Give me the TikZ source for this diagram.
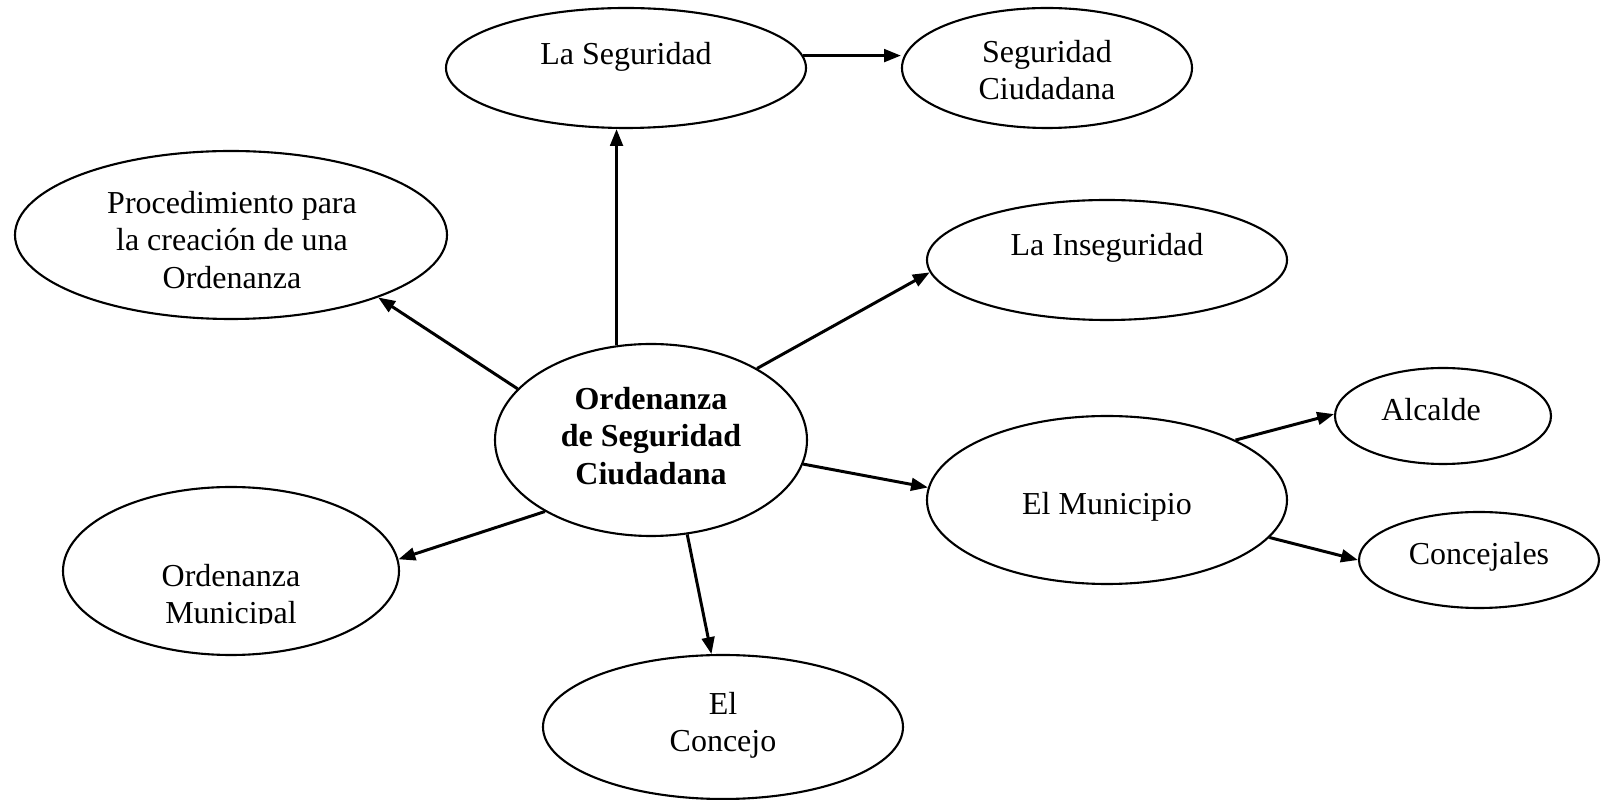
\documentclass[tikz,border=0pt]{standalone}
\usepackage{fontspec}
\setmainfont{Liberation Serif}
\usetikzlibrary{shapes.geometric,arrows.meta}

\begin{document}
\begin{tikzpicture}[
  >={Triangle[length=4.8pt,width=3.6pt]},
  oval/.style={draw, ellipse, line width=0.6pt, inner sep=0pt},
  txt/.style={align=center, inner sep=0pt, font=\fontsize{9.1}{10.6}\selectfont},
  arr/.style={->, line width=0.85pt}
]
  \useasboundingbox (0,0) rectangle (16.01,-8.00);

  % ellipses
  \node[oval, minimum width=3.60cm, minimum height=1.20cm] (seg)   at (6.26,-0.68) {};
  \node[oval, minimum width=2.90cm, minimum height=1.20cm] (segc)  at (10.47,-0.68) {};
  \node[oval, minimum width=4.32cm, minimum height=1.68cm] (proc)  at (2.31,-2.35) {};
  \node[oval, minimum width=3.60cm, minimum height=1.20cm] (inseg) at (11.07,-2.60) {};
  \node[oval, minimum width=3.12cm, minimum height=1.92cm] (cen)   at (6.51,-4.40) {};
  \node[oval, minimum width=3.60cm, minimum height=1.68cm] (mun)   at (11.07,-5.00) {};
  \node[oval, minimum width=2.16cm, minimum height=0.96cm] (alc)   at (14.43,-4.16) {};
  \node[oval, minimum width=2.40cm, minimum height=0.96cm] (conc)  at (14.79,-5.60) {};
  \node[oval, minimum width=3.36cm, minimum height=1.68cm] (om)    at (2.31,-5.71) {};
  \node[oval, minimum width=3.60cm, minimum height=1.44cm] (con)   at (7.23,-7.27) {};

  % texts
  \node[txt] (segT)   at (6.26,-0.57)  {La Seguridad};
  \node[txt] (segcT)  at (10.47,-0.70) {Seguridad\\Ciudadana};
  \node[txt] (procT)  at (2.32,-2.40)  {Procedimiento para\\la creación de una\\Ordenanza};
  \node[txt] (insegT) at (11.07,-2.48) {La Inseguridad};
  \node[txt, font=\fontsize{9.1}{10.6}\selectfont\bfseries] (cenT) at (6.51,-4.36)
    {Ordenanza\\de Seguridad\\Ciudadana};
  \node[txt] (munT)   at (11.07,-5.07) {El Municipio};
  \node[txt] (alcT)   at (14.31,-4.10) {Alcalde};
  \node[txt] (concT)  at (14.79,-5.57) {Concejales};
  \node[txt] (conT)   at (7.23,-7.25)  {El\\Concejo};
  \begin{scope}
    \clip (0,-4.5) rectangle (5,-6.24);
    \node[txt] (omT) at (2.31,-5.97) {Ordenanza\\Municipal};
  \end{scope}

  % connectors
  \draw[arr] (cen.110) -- (cen.110 |- seg.south);
  \draw[arr] (seg.4) -- (seg.4 -| segc.west);
  \draw[arr] (cen.34) -- (inseg.184);
  \draw[arr] (cen.159) -- (proc.337);
  \draw[arr] (cen.351) -- (mun.176);
  \draw[arr] (cen.214) -- (om.4);
  \draw[arr] (cen.291) -- (con.99);
  \draw[arr] (mun.25) -- (alc.179);
  \draw[arr] (mun.347) -- (conc.west);
\end{tikzpicture}
\end{document}
